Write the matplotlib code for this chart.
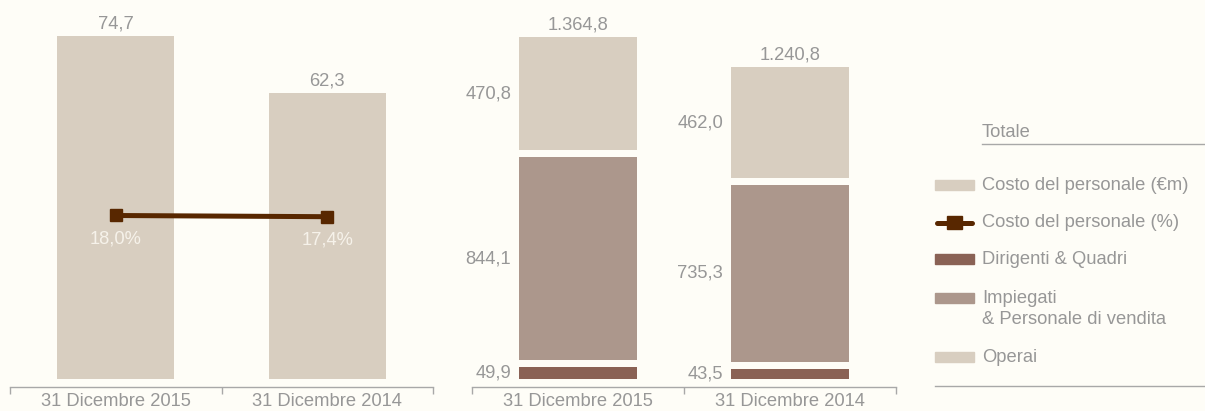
import matplotlib
matplotlib.use('Agg')
import matplotlib.pyplot as plt
from matplotlib.patches import Rectangle
from matplotlib.lines import Line2D

# ---------------- data ----------------
categories = ['31 Dicembre 2015', '31 Dicembre 2014']
costo_personale_m = [74.7, 62.3]
costo_personale_pct = [18.0, 17.4]
dirigenti = [49.9, 43.5]
impiegati = [844.1, 735.3]
operai = [470.8, 462.0]
totali = [1364.8, 1240.8]
legend_title = 'Totale'
legend_labels = ['Costo del personale (€m)', 'Costo del personale (%)',
                 'Dirigenti & Quadri', 'Impiegati\n& Personale di vendita', 'Operai']

# ---------------- style ----------------
BG = '#fefdf7'
LIGHT = '#d8cec0'
MID = '#ac978c'
DARK = '#8a6255'
LINEC = '#582700'
TXT = '#979797'
RULE = '#a8a8a8'
PCT_TXT = '#f6f2ea'
FONT = ['Liberation Sans', 'DejaVu Sans']
FS = 13.2

plt.rcParams['font.family'] = FONT

W, H = 1205, 411
fig = plt.figure(figsize=(W / 100, H / 100), dpi=100, facecolor=BG)


def px_axes(x0, x1, ytop, ybot):
    return fig.add_axes([x0 / W, 1 - ybot / H, (x1 - x0) / W, (ybot - ytop) / H])


def it_fmt(v, pct=False):
    s = f"{v:,.1f}".replace(',', 'X').replace('.', ',').replace('X', '.')
    return s + ('%' if pct else '')


def style_axis(ax):
    ax.set_facecolor('none')
    for s in ['left', 'right', 'top']:
        ax.spines[s].set_visible(False)
    ax.spines['bottom'].set_position(('outward', 5.8))
    ax.spines['bottom'].set_color(RULE)
    ax.spines['bottom'].set_linewidth(1)
    ax.set_xlim(-0.5, 1.5)
    ax.set_xticks([-0.5, 0.5, 1.5])
    ax.set_xticklabels(['', '', ''])
    ax.set_xticks([0, 1], minor=True)
    ax.set_xticklabels(categories, minor=True)
    ax.tick_params(axis='x', which='major', length=5, width=1, color=RULE, direction='out')
    ax.tick_params(axis='x', which='minor', length=0, pad=4, labelsize=FS, labelcolor=TXT)
    ax.set_yticks([])


x = [0, 1]
BW = 0.553

# ---------------- left chart ----------------
ax1 = px_axes(10, 433, 12, 379)
style_axis(ax1)
ax1.set_ylim(0, 80)
ax1.bar(x, costo_personale_m, width=BW, color=LIGHT, zorder=1)
for i, v in enumerate(costo_personale_m):
    ax1.annotate(it_fmt(v), (x[i], v), xytext=(0, 3), textcoords='offset points',
                 ha='center', va='bottom', fontsize=FS, color=TXT)

ax1b = ax1.twinx()
ax1b.set_ylim(-63.75, 119.75)
ax1b.set_yticks([])
for s in ax1b.spines.values():
    s.set_visible(False)
ax1b.plot(x, costo_personale_pct, color=LINEC, lw=3.6, marker='s', markersize=9,
          solid_capstyle='butt', zorder=3)
for i, p in enumerate(costo_personale_pct):
    ax1b.annotate(it_fmt(p, True), (x[i], p), xytext=(0, -17), textcoords='offset points',
                  ha='center', va='center', fontsize=FS, color=PCT_TXT)

# ---------------- right chart ----------------
ax2 = px_axes(472, 896, 12, 379)
style_axis(ax2)
ax2.set_ylim(0, 1529)
GAP = 29
b_dir = [0, 0]
b_imp = [d + GAP for d in dirigenti]
b_ope = [d + m + 2 * GAP for d, m in zip(dirigenti, impiegati)]
for vals, bots, col in [(dirigenti, b_dir, DARK), (impiegati, b_imp, MID), (operai, b_ope, LIGHT)]:
    ax2.bar(x, vals, width=BW, bottom=bots, color=col)
    for i in range(2):
        ax2.annotate(it_fmt(vals[i]), (x[i] - BW / 2, bots[i] + vals[i] / 2), xytext=(-6, 0),
                     textcoords='offset points', ha='right', va='center', fontsize=FS, color=TXT)
for i, t in enumerate(totali):
    ax2.annotate(it_fmt(t), (x[i], b_ope[i] + operai[i]), xytext=(0, 3), textcoords='offset points',
                 ha='center', va='bottom', fontsize=FS, color=TXT)

# ---------------- legend ----------------
lg = fig.add_axes([0, 0, 1, 1])
lg.set_xlim(0, W)
lg.set_ylim(H, 0)
lg.axis('off')
lg.text(982, 132, legend_title, ha='left', va='center', fontsize=FS, color=TXT)
lg.plot([982, 1205], [144, 144], color=RULE, lw=1)
lg.plot([935, 1205], [386, 386], color=RULE, lw=1)
ys = [185.5, 222.5, 259, 298, 357]
cols = [LIGHT, None, DARK, MID, LIGHT]
for y, c, lab in zip(ys, cols, legend_labels):
    if c is None:
        lg.add_line(Line2D([937, 972], [y, y], color=LINEC, lw=3.6, solid_capstyle='round'))
        lg.add_patch(Rectangle((947, y - 6.5), 15, 13, color=LINEC))
    else:
        lg.add_patch(Rectangle((935, y - 5), 39, 10, color=c))
    lg.text(982, y, lab.split('\n')[0], ha='left', va='center', fontsize=FS, color=TXT)
    if '\n' in lab:
        lg.text(982, y + 21, lab.split('\n')[1], ha='left', va='center', fontsize=FS, color=TXT)

fig.savefig('out.png', dpi=100, facecolor=BG)
